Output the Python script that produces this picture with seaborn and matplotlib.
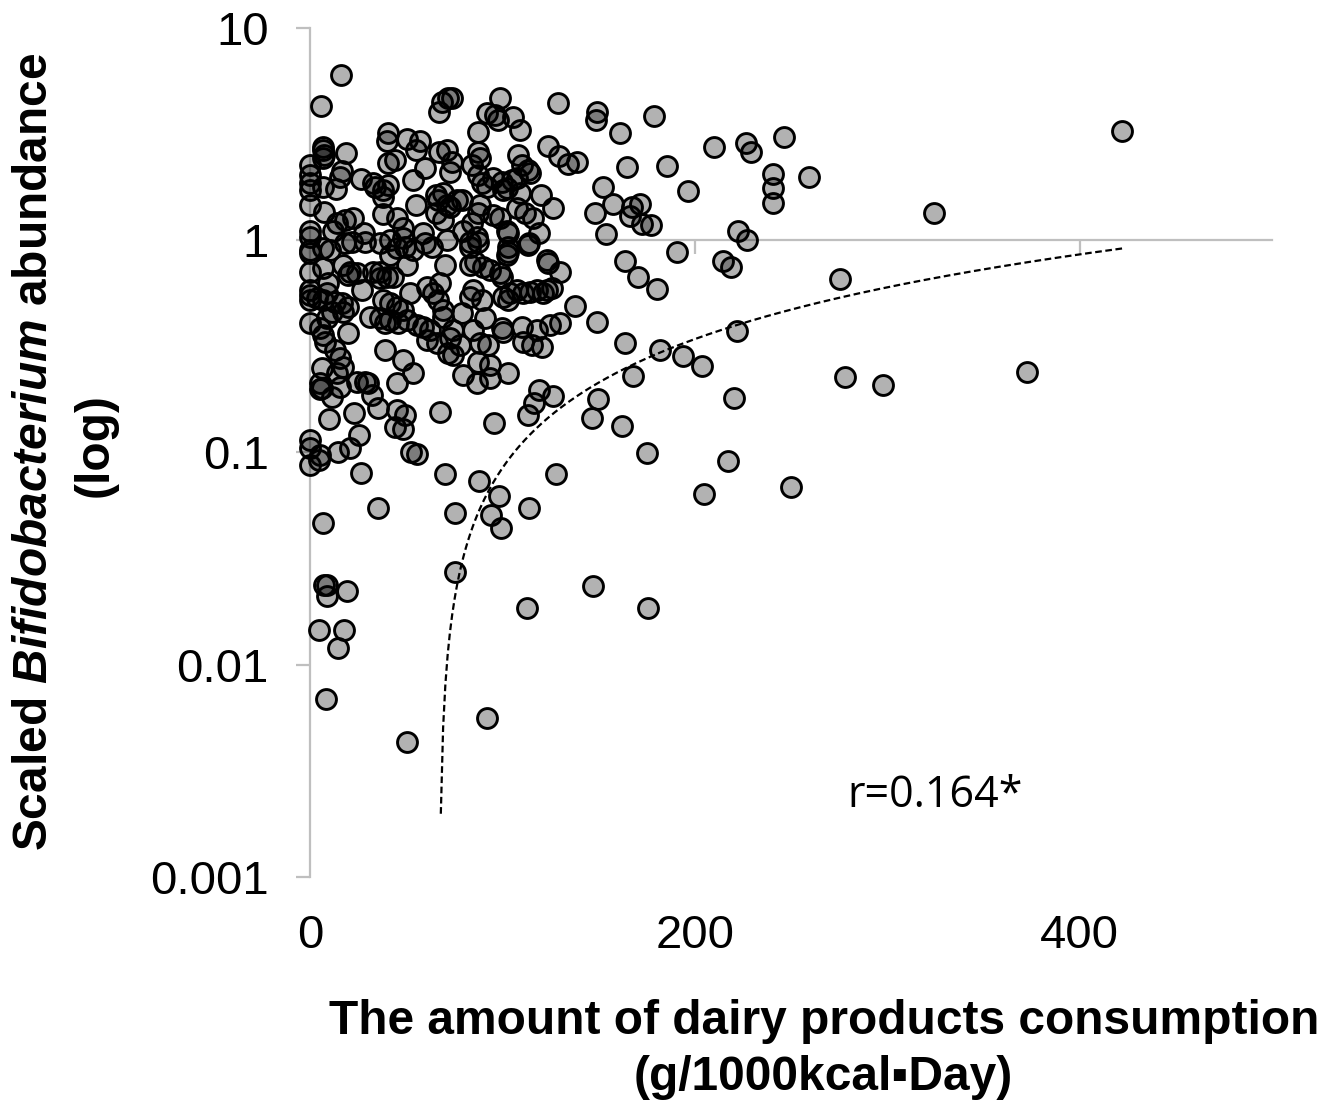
import numpy as np
import matplotlib
matplotlib.use("Agg")
import matplotlib.pyplot as plt
import seaborn as sns
from matplotlib.ticker import FixedLocator, FixedFormatter, NullLocator

# dairy intake (g/1000kcal/day) and scaled Bifidobacterium abundance
# right / sparse part of the cloud
x_right = [148.9, 148.4, 178.6, 160.9, 209.7, 226.4, 229.0, 246.1, 164.5, 185.3,
           152.0, 196.2, 240.4, 240.4, 240.4, 259.1, 157.2, 147.9, 167.2, 166.1,
           171.3, 172.3, 177.0, 153.6, 222.3, 226.9, 190.5, 163.5, 170.2, 180.1,
           214.4, 218.6, 275.2, 148.9, 163.5, 181.7, 193.6, 203.5, 221.7, 167.7,
           149.4, 146.3, 161.9, 174.9, 217.0, 220.2, 277.8, 297.5, 372.4, 422.3,
           324.1, 249.7, 204.5, 146.8, 175.4, 112.5, 91.7, 50.2]
y_right = [4.01, 3.68, 3.84, 3.19, 2.74, 2.86, 2.60, 3.06, 2.21, 2.23,
           1.78, 1.70, 2.05, 1.76, 1.49, 1.98, 1.48, 1.34, 1.43, 1.30,
           1.48, 1.19, 1.18, 1.07, 1.11, 1.00, 0.878, 0.796, 0.670, 0.588,
           0.796, 0.746, 0.655, 0.411, 0.327, 0.303, 0.284, 0.255, 0.373, 0.229,
           0.178, 0.145, 0.133, 0.0991, 0.091, 0.180, 0.226, 0.207, 0.239, 3.26,
           1.35, 0.0686, 0.0636, 0.0234, 0.0185, 0.0185, 0.0056, 0.00431]

# low values on the left
x_low = [14.3, 20.5, 52.2, 55.4, 0, 4.4, 0, 0, 4.9, 26.2,
         69.9, 87.6, 127.6, 98.0, 35.1, 75.1, 93.8, 99.0, 113.6, 6.5,
         75.1, 7.0, 8.6, 8.6, 19.0, 4.4, 17.4, 14.3, 8.1, 9.6,
         22.6, 25.2, 67.3, 95.4, 113.0, 116.2, 118.8, 126.0, 35.1, 45.0,
         49.1, 43.9, 48.1, 32.0, 11.2, 4.9]
y_low = [0.101, 0.105, 0.100, 0.0981, 0.0871, 0.0919, 0.115, 0.105, 0.097, 0.0798,
         0.0790, 0.0732, 0.0790, 0.0622, 0.0546, 0.0518, 0.0506, 0.0440, 0.0546, 0.0464,
         0.0273, 0.0237, 0.0237, 0.0210, 0.0222, 0.0145, 0.0145, 0.0120, 0.00688, 0.143,
         0.153, 0.121, 0.155, 0.137, 0.150, 0.171, 0.196, 0.184, 0.162, 0.158,
         0.150, 0.132, 0.129, 0.186, 0.182, 0.199]

# upper left block (x < 75)
x_ul = [15.9, 5.5, 66.8, 68.3, 71.5, 6.5, 6.5, 7.0, 6.5, 18.5,
        40.3, 39.8, 50.2, 56.9, 54.8, 66.8, 70.9, 0, 0, 0,
        0, 16.4, 15.3, 43.9, 40.3, 59.5, 26.2, 32.5, 33.5, 37.7,
        40.3, 13.3, 6.5, 53.3, 0, 7.0, 37.7, 65.2, 66.3, 70.9,
        54.8, 17.9, 13.8, 22.1, 11.7, 37.7, 45.0, 48.1, 27.8, 58.5,
        65.2, 68.9, 0, 0, 70.9, 41.3, 48.1]
y_ul = [5.99, 4.28, 4.01, 4.47, 4.67, 2.74, 2.65, 2.51, 2.43, 2.57,
        3.19, 2.93, 2.99, 2.93, 2.65, 2.60, 2.65, 2.26, 2.02, 1.86,
        1.72, 2.11, 1.98, 2.38, 2.31, 2.18, 1.94, 1.86, 1.78, 1.72,
        1.82, 1.74, 1.78, 1.92, 1.46, 1.36, 1.59, 1.63, 1.54, 1.46,
        1.46, 1.24, 1.20, 1.27, 1.11, 1.33, 1.27, 1.14, 1.08, 1.08,
        1.34, 1.24, 1.11, 1.03, 1.00, 1.00, 1.02]

# upper middle block (x 70-140)
x_um = [73.5, 98.5, 91.7, 95.9, 97.5, 105.3, 108.9, 128.6, 87.1, 123.4,
        129.2, 133.8, 138.5, 87.1, 88.1, 83.9, 107.8, 109.9, 113.0, 114.1,
        73.5, 72.5, 94.8, 99.5, 104.7, 107.3, 102.1, 100.1, 87.1, 89.1,
        91.7, 108.9, 119.8, 126.0, 68.9, 76.1, 72.5, 78.7, 88.1, 87.1,
        94.8, 98.5, 107.3, 111.5, 115.7, 79.3, 83.9, 86.5, 82.9, 102.1,
        102.7, 118.8, 113.6, 102.7]
y_um = [4.67, 4.67, 3.97, 3.88, 3.68, 3.80, 3.30, 4.42, 3.23, 2.77,
        2.49, 2.28, 2.33, 2.60, 2.43, 2.26, 2.51, 2.26, 2.14, 2.07,
        2.33, 2.09, 1.96, 1.88, 1.92, 1.96, 1.76, 1.72, 2.02, 1.86,
        1.78, 1.66, 1.63, 1.42, 1.66, 1.54, 1.43, 1.54, 1.46, 1.34,
        1.31, 1.27, 1.42, 1.34, 1.27, 1.11, 1.20, 1.03, 0.978, 1.11,
        1.08, 1.08, 0.968, 0.927]

# lower left block (below 1, x < 75)
x_ll = [0, 0, 6.5, 10.1, 17.9, 21.6, 28.3, 36.1, 41.3, 45.0,
        49.1, 53.3, 50.2, 59.5, 63.2, 69.9, 0, 6.5, 16.9, 20.5,
        24.2, 19.5, 32.5, 36.1, 39.8, 36.1, 42.9, 9.1, 26.8, 0,
        0, 0, 3.4, 6.5, 8.6, 12.7, 16.4, 19.5, 16.9, 11.2,
        8.6, 30.9, 36.1, 38.7, 41.3, 37.7, 41.3, 45.0, 48.1, 50.2,
        45.5, 51.7, 60.6, 63.7, 66.3, 68.9, 55.4, 58.5, 62.1, 60.6,
        65.7, 68.9, 71.5, 0, 4.9, 6.5, 7.5, 12.7, 15.3, 16.9,
        19.5, 38.7, 48.1, 53.3, 6.0, 13.8, 15.3, 4.9, 6.0, 24.2,
        28.3, 29.9, 45.0]
y_ll = [0.897, 0.869, 0.917, 0.897, 0.968, 0.978, 0.978, 0.968, 0.850, 0.917,
        0.927, 0.897, 0.762, 0.968, 0.927, 0.762, 0.707, 0.738, 0.762, 0.707,
        0.699, 0.684, 0.707, 0.707, 0.670, 0.662, 0.670, 0.627, 0.581, 0.581,
        0.551, 0.522, 0.533, 0.522, 0.562, 0.511, 0.505, 0.483, 0.458, 0.458,
        0.429, 0.434, 0.429, 0.406, 0.420, 0.522, 0.505, 0.483, 0.468, 0.420,
        0.406, 0.562, 0.601, 0.562, 0.522, 0.468, 0.398, 0.389, 0.377, 0.338,
        0.327, 0.434, 0.294, 0.406, 0.385, 0.357, 0.331, 0.303, 0.278, 0.252,
        0.365, 0.303, 0.272, 0.236, 0.249, 0.236, 0.203, 0.212, 0.201, 0.214,
        0.214, 0.212, 0.212]

# lower middle block (below 1, x 65-140)
x_lm = [82.9, 87.1, 82.9, 85.5, 89.7, 93.3, 98.5, 99.5, 102.1, 102.7,
        113.0, 122.9, 123.4, 129.7, 84.5, 82.9, 89.1, 100.1, 102.7, 103.7,
        107.3, 110.4, 114.1, 117.7, 120.8, 122.9, 125.5, 67.3, 78.7, 90.7,
        99.5, 100.1, 109.9, 117.7, 124.5, 129.7, 137.5, 74.1, 72.5, 77.7,
        74.1, 84.5, 88.1, 92.3, 110.4, 115.1, 120.3, 87.1, 93.3, 79.3,
        86.5, 93.3, 102.7]
y_lm = [0.927, 0.978, 0.762, 0.788, 0.746, 0.722, 0.699, 0.670, 0.850, 0.878,
        0.947, 0.805, 0.779, 0.707, 0.581, 0.539, 0.522, 0.539, 0.522, 0.562,
        0.581, 0.562, 0.569, 0.581, 0.562, 0.581, 0.594, 0.627, 0.453, 0.429,
        0.385, 0.369, 0.389, 0.377, 0.398, 0.406, 0.489, 0.377, 0.345, 0.320,
        0.287, 0.377, 0.327, 0.320, 0.331, 0.320, 0.313, 0.266, 0.258, 0.231,
        0.212, 0.224, 0.236]

dairy = np.array(x_right + x_low + x_ul + x_um + x_ll + x_lm)
bifido = np.array(y_right + y_low + y_ul + y_um + y_ll + y_lm)

# linear trend line (as drawn by the spreadsheet on the log axis)
trend_slope = 0.002575
trend_intercept = -0.1726
trend_start, trend_end = 67.8, 422.3

y_ticks = [0.001, 0.01, 0.1, 1, 10]
y_ticklabels = ["0.001", "0.01", "0.1", "1", "10"]
x_ticks = [0, 200, 400]

sns.set_style("white")
plt.rcParams['font.family'] = ['Liberation Sans', 'DejaVu Sans']
plt.rcParams['text.color'] = 'black'
plt.rcParams['mathtext.fontset'] = 'custom'
plt.rcParams['mathtext.rm'] = 'Liberation Sans:bold'
plt.rcParams['mathtext.bfit'] = 'Liberation Sans:italic:bold'

axis_grey = '#bfbfbf'

fig = plt.figure(figsize=(13.37, 11.01), dpi=100)
ax = fig.add_axes([0.2322, 0.2035, 0.7191, 0.7711])

sns.scatterplot(x=dairy, y=bifido, ax=ax, s=205, color=(0, 0, 0, 0.3),
                edgecolor='black', linewidth=2.1, clip_on=False, zorder=3,
                legend=False)

tx = np.linspace(trend_start, trend_end, 300)
ax.plot(tx, trend_slope * tx + trend_intercept, color='black', lw=1.6,
        dashes=(3, 1.6), zorder=4)

ax.set_yscale('log')
ax.set_xlim(0, 500)
ax.set_ylim(0.001, 10)

for s in ['top', 'right']:
    ax.spines[s].set_visible(False)
ax.spines['left'].set_color(axis_grey)
ax.spines['left'].set_linewidth(1.6)
ax.spines['bottom'].set_position(('data', 1))
ax.spines['bottom'].set_color(axis_grey)
ax.spines['bottom'].set_linewidth(1.6)

ax.yaxis.set_major_locator(FixedLocator(y_ticks))
ax.yaxis.set_major_formatter(FixedFormatter(y_ticklabels))
ax.yaxis.set_minor_locator(NullLocator())
ax.tick_params(axis='y', length=10, width=1.6, color=axis_grey, pad=20,
               labelsize=34, labelcolor='black', left=True)
ax.set_xticks(x_ticks)
ax.tick_params(axis='x', length=10, width=1.6, color=axis_grey,
               bottom=True, labelbottom=False)

# x tick labels sit at the bottom of the plot, not on the crossing line
sec = ax.secondary_xaxis('bottom')
sec.set_xticks(x_ticks)
sec.set_xticklabels([str(v) for v in x_ticks])
sec.tick_params(length=0, labelsize=34, labelcolor='black', pad=27)
sec.spines['bottom'].set_visible(False)

ax.text(279, 0.0024, 'r=0.164*', fontsize=31, family='Open Sans',
        color='black', ha='left', va='center')

fig.text(824 / 1337, 1 - 1022 / 1101, 'The amount of dairy products consumption',
         fontsize=34.5, fontweight='bold', ha='center', va='center')
fig.text(823 / 1337, 1 - 1078 / 1101, '(g/1000kcal\u25aaDay)',
         fontsize=34.5, fontweight='bold', ha='center', va='center')

fig.text(35 / 1337, 1 - 452 / 1101, r'Scaled $\mathbfit{Bifidobacterium}$ abundance',
         fontsize=34.5, fontweight='bold', rotation=90, ha='center', va='center')
fig.text(95 / 1337, 1 - 445 / 1101, '(log)',
         fontsize=34.5, fontweight='bold', rotation=90, ha='center', va='center')

fig.savefig('out.png', dpi=100)
